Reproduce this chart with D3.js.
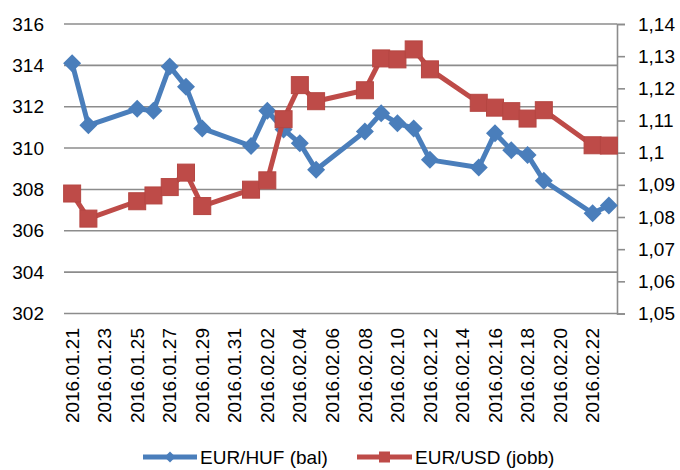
<!DOCTYPE html>
<html>
<head>
<meta charset="utf-8">
<script src="https://cdn.jsdelivr.net/npm/d3@7"></script>
<style>
  html, body { margin: 0; padding: 0; background: #fff; }
  svg { display: block; }
  text { font-family: "Liberation Sans", Arial, sans-serif; fill: #000; }
</style>
</head>
<body>
<svg id="chart" width="680" height="470"></svg>
<script>
// ---- data ----
const dates = ["2016-01-21","2016-01-22","2016-01-25","2016-01-26","2016-01-27","2016-01-28","2016-01-29",
               "2016-02-01","2016-02-02","2016-02-03","2016-02-04","2016-02-05","2016-02-08","2016-02-09",
               "2016-02-10","2016-02-11","2016-02-12","2016-02-15","2016-02-16","2016-02-17","2016-02-18",
               "2016-02-19","2016-02-22","2016-02-23"];
const eurHuf = [314.1, 311.1, 311.9, 311.8, 313.95, 312.97, 310.95,
                310.1, 311.8, 310.9, 310.23, 308.95, 310.8, 311.68,
                311.2, 310.95, 309.43, 309.06, 310.72, 309.9, 309.67,
                308.42, 306.85, 307.22];
const eurUsd = [1.0873, 1.0795, 1.0849, 1.0867, 1.0893, 1.0938, 1.0834,
                1.0885, 1.0914, 1.1104, 1.1210, 1.1160, 1.1194, 1.1293,
                1.1290, 1.1321, 1.1259, 1.1155, 1.1140, 1.1129, 1.1106,
                1.1132, 1.1023, 1.1022];
const leftTicks = [302, 304, 306, 308, 310, 312, 314, 316];
const rightTicks = [1.05, 1.06, 1.07, 1.08, 1.09, 1.10, 1.11, 1.12, 1.13, 1.14];
const xTickDates = ["2016-01-21","2016-01-23","2016-01-25","2016-01-27","2016-01-29","2016-01-31",
                    "2016-02-02","2016-02-04","2016-02-06","2016-02-08","2016-02-10","2016-02-12",
                    "2016-02-14","2016-02-16","2016-02-18","2016-02-20","2016-02-22"];
const seriesNames = ["EUR/HUF (bal)", "EUR/USD (jobb)"];

// ---- setup ----
const parse = d3.utcParse("%Y-%m-%d");
const fmt = d3.utcFormat("%Y.%m.%d");
const svg = d3.select("#chart");
const L = 64, R = 617, T = 24, B = 313.5;
const blue = "#4a7ebb", red = "#be4b48", grid = "#8c8c8c";

const x = d3.scaleUtc()
  .domain([d3.utcHour.offset(parse(dates[0]), -12), d3.utcHour.offset(parse(dates[dates.length-1]), 12)])
  .range([L, R]);
const yL = d3.scaleLinear().domain([302, 316]).range([B, T]);
const yR = d3.scaleLinear().domain([1.05, 1.14]).range([B, T]);

// gridlines
svg.append("g").selectAll("line").data(leftTicks).join("line")
  .attr("x1", L).attr("x2", R)
  .attr("y1", d => yL(d)).attr("y2", d => yL(d))
  .attr("stroke", grid).attr("stroke-width", 1.6);

// left axis labels
svg.append("g").selectAll("text").data(leftTicks).join("text")
  .attr("x", 44).attr("y", d => yL(d))
  .attr("dy", "0.35em").attr("text-anchor", "end")
  .style("font-size", "19px")
  .text(d => d);

// right axis
const rAxis = d3.axisRight(yR).tickValues(rightTicks).tickSize(8).tickPadding(13)
  .tickFormat(d => d3.format(".2~f")(d).replace(".", ","));
const rg = svg.append("g").attr("transform", `translate(${R},0)`).call(rAxis);
rg.select(".domain").attr("stroke", grid).attr("stroke-width", 1.6);
rg.selectAll(".tick line").attr("stroke", grid).attr("stroke-width", 1.6);
rg.selectAll(".tick text").style("font-size", "19px").attr("font-family", null).attr("fill", "#000");

// x labels
svg.append("g").selectAll("text").data(xTickDates).join("text")
  .attr("transform", d => `translate(${x(parse(d))},328) rotate(-90)`)
  .attr("text-anchor", "end").attr("dy", "0.35em")
  .style("font-size", "19px")
  .text(d => fmt(parse(d)));

// series
const pts = (vals, sc) => dates.map((d, i) => [x(parse(d)), sc(vals[i])]);
const line = d3.line();
const bluePts = pts(eurHuf, yL);
const redPts = pts(eurUsd, yR);

const diamond = (cx, cy, r) => `M${cx},${cy - r}L${cx + r},${cy}L${cx},${cy + r}L${cx - r},${cy}Z`;

svg.append("path").attr("d", line(bluePts)).attr("fill", "none")
  .attr("stroke", blue).attr("stroke-width", 5).attr("stroke-linejoin", "round");
svg.append("g").selectAll("path").data(bluePts).join("path")
  .attr("d", p => diamond(p[0], p[1], 9)).attr("fill", blue);

svg.append("path").attr("d", line(redPts)).attr("fill", "none")
  .attr("stroke", red).attr("stroke-width", 5).attr("stroke-linejoin", "round");
svg.append("g").selectAll("rect").data(redPts).join("rect")
  .attr("x", p => p[0] - 8.5).attr("y", p => p[1] - 8.5)
  .attr("width", 17).attr("height", 17)
  .attr("fill", red).attr("stroke", "#b54642").attr("stroke-width", 1);

// legend
const ly = 457;
const lg = svg.append("g");
lg.append("line").attr("x1", 143).attr("x2", 197).attr("y1", ly).attr("y2", ly)
  .attr("stroke", blue).attr("stroke-width", 5);
lg.append("path").attr("d", diamond(170, ly, 5.5)).attr("fill", blue);
lg.append("text").attr("x", 200).attr("y", ly).attr("dy", "0.35em")
  .style("font-size", "19px").text(seriesNames[0]);
lg.append("line").attr("x1", 357).attr("x2", 412).attr("y1", ly).attr("y2", ly)
  .attr("stroke", red).attr("stroke-width", 5);
lg.append("rect").attr("x", 379).attr("y", ly - 5.5).attr("width", 11).attr("height", 11).attr("fill", red);
lg.append("text").attr("x", 415).attr("y", ly).attr("dy", "0.35em")
  .style("font-size", "19px").text(seriesNames[1]);
</script>
</body>
</html>
